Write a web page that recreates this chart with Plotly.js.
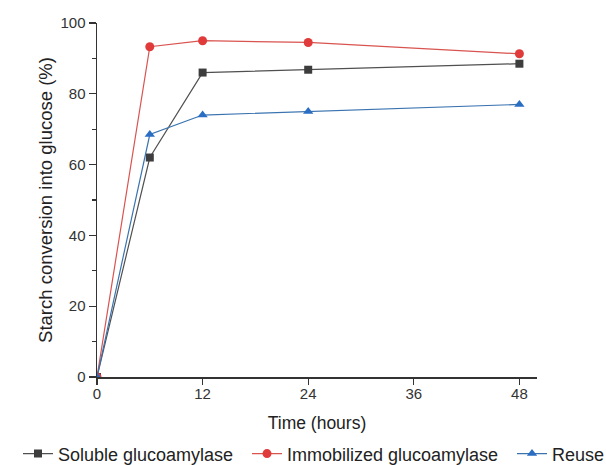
<!DOCTYPE html>
<html>
<head>
<meta charset="utf-8">
<script src="https://cdn.plot.ly/plotly-3.0.1.min.js"></script>
<style>html,body{margin:0;padding:0;background:#fff;}#chart{width:606px;height:465px;}</style>
</head>
<body>
<div id="chart"></div>
<script>
var timeHours = [0, 6, 12, 24, 48];
var soluble = [0, 62, 86, 86.8, 88.5];
var immobilized = [0, 93.3, 95, 94.5, 91.3];
var reuse = [0, 68.5, 74, 75, 77];
var seriesNames = ["Soluble glucoamylase", "Immobilized glucoamylase", "Reuse"];
var xTicks = [0, 12, 24, 36, 48];
var yTicks = [0, 20, 40, 60, 80, 100];

var font = "Arial, 'Liberation Sans', sans-serif";
var traces = [
  {x: timeHours, y: soluble, name: seriesNames[0], mode: "lines+markers", legend: "legend",
   line: {color: "#505050", width: 1.2}, marker: {symbol: "square", size: 8, color: "#3d3d3d"}},
  {x: timeHours, y: immobilized, name: seriesNames[1], mode: "lines+markers", legend: "legend2",
   line: {color: "#d9534f", width: 1.2}, marker: {symbol: "circle", size: 9, color: "#e03a3a"}},
  {x: timeHours, y: reuse, name: seriesNames[2], mode: "lines+markers", legend: "legend3",
   line: {color: "#3a73b0", width: 1.2}, marker: {symbol: "triangle-up", size: 9, color: "#2a6ec4"}}
];
var L = 10, R = 10, W = 606;
var gw = W - L - R;
function leg(px) {
  return {orientation: "h", x: (px - L) / gw, y: -0.165, xanchor: "left", yanchor: "top",
    font: {size: 18, color: "#222", family: font}, bgcolor: "rgba(0,0,0,0)"};
}
var layout = {
  width: 606, height: 465,
  margin: {l: L, r: R, t: 23, b: 88, autoexpand: false},
  paper_bgcolor: "#fff", plot_bgcolor: "rgba(0,0,0,0)",
  font: {family: font, color: "#333"},
  showlegend: true,
  legend: leg(18),
  legend2: leg(247),
  legend3: leg(512),
  xaxis: {domain: [(97 - L) / gw, (537 - L) / gw], range: [0, 50], tickvals: xTicks, ticktext: xTicks.map(String),
    ticks: "outside", ticklen: 6, tickwidth: 1.3, ticklabelstandoff: -4,
    tickcolor: "#333", showline: true, linecolor: "#333", linewidth: 1.5, showgrid: false, zeroline: false,
    tickfont: {size: 15, color: "#333"},
    title: {text: "Time (hours)", font: {size: 17.5, color: "#222"}, standoff: 16}},
  yaxis: {range: [0, 100], tickvals: yTicks, ticktext: yTicks.map(String), ticks: "outside", ticklen: 7, tickwidth: 1.3,
    tickcolor: "#333", showline: true, linecolor: "#333", linewidth: 1.5, showgrid: false, zeroline: false,
    tickfont: {size: 15, color: "#333"},
    minor: {tickvals: [10, 30, 50, 70, 90], ticks: "outside", ticklen: 4, tickcolor: "#333", showgrid: false},
    title: {text: "Starch conversion into glucose (%)", font: {size: 18.5, color: "#222"}, standoff: 3}}
};
Plotly.newPlot("chart", traces, layout, {displayModeBar: false, staticPlot: true});
</script>
</body>
</html>
